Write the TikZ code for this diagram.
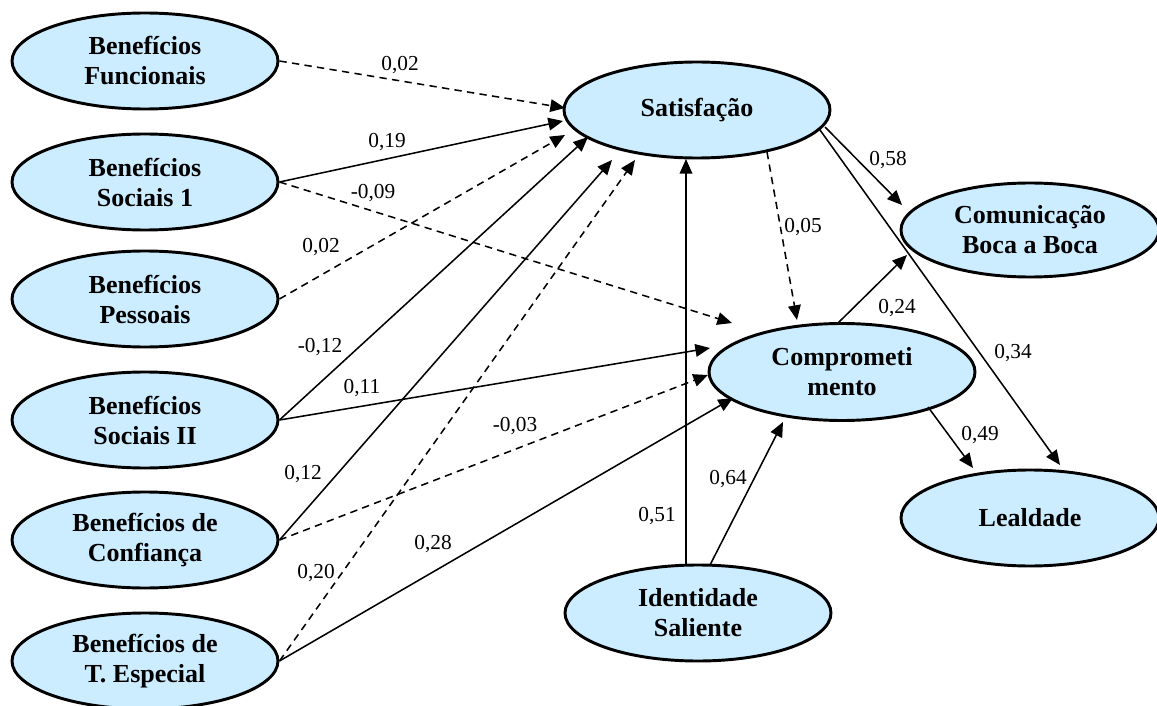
\documentclass[tikz,border=0pt]{standalone}
\usepackage{fontspec}
\setmainfont{Liberation Serif}
\usetikzlibrary{arrows.meta,calc,shapes.geometric}
\definecolor{lblue}{HTML}{CCECFF}
\begin{document}
\begin{tikzpicture}[x=0.75pt,y=-0.75pt,
  var/.style={ellipse,draw=black,line width=2.2pt,fill=lblue,inner sep=0pt,
    minimum width=199.5pt,minimum height=72pt,align=center,
    font=\bfseries\fontsize{19.5}{22.5}\selectfont},
  path/.style={line width=1.15pt,-{Triangle[length=11pt,width=9.5pt]}},
  dpath/.style={path,dash pattern=on 5.5pt off 4pt},
  lab/.style={font=\fontsize{16}{18}\selectfont,inner sep=0pt}]
\useasboundingbox (0,0) rectangle (1157,706);
% nodes
\node[var] (fun) at (145,61) {Benefícios\\Funcionais};
\node[var] (soc1) at (145,182) {Benefícios\\Sociais 1};
\node[var] (pes) at (145,299) {Benefícios\\Pessoais};
\node[var] (soc2) at (145,420) {Benefícios\\Sociais II};
\node[var] (conf) at (145,540) {Benefícios de\\Confiança};
\node[var] (tesp) at (145,661) {Benefícios de\\T. Especial};
\node[var] (sat) at (697,110) {Satisfação};
\node[var,minimum width=193.5pt,minimum height=70.5pt] (com) at (1030,230) {Comunicação\\Boca a Boca};
\node[var,minimum height=72.75pt] (comp) at (842,372) {Comprometi\\mento};
\node[var,minimum width=193.5pt] (leal) at (1030,518) {Lealdade};
\node[var] (ide) at (698,613) {Identidade\\Saliente};
% connectors
\draw[dpath] (fun.east) -- ($(sat)+(-132,-2)$);
\draw[path] (soc1.east) -- ($(sat)+(-134,11)$);
\draw[dpath] (soc1.east) -- ($(comp)+(-110,-49)$);
\draw[dpath] (pes.east) -- ($(sat)+(-132,25)$);
\draw[path] (soc2.east) -- ($(sat)+(-109,27)$);
\draw[path] (soc2.east) -- ($(comp)+(-132,-24)$);
\draw[path] (conf.east) -- ($(sat)+(-85,50)$);
\draw[dpath] (conf.east) -- ($(comp)+(-134,3)$);
\draw[dpath] (tesp.east) -- ($(sat)+(-62,50)$);
\draw[path] (tesp.east) -- ($(comp)+(-109,26)$);
\draw[path] ($(ide)+(-12,-48)$) -- ($(sat)+(-11,49)$);
\draw[path] ($(ide)+(12,-48)$) -- ($(comp)+(-59,50)$);
\draw[dpath] ($(sat)+(70,42)$) -- ($(comp)+(-45,-52)$);
\draw[path] ($(sat)+(128,17)$) -- ($(com)+(-128,-25)$);
\draw[path] ($(sat)+(123,20)$) -- ($(leal)+(30,-53)$);
\draw[path] ($(comp)+(-5,-48)$) -- ($(com)+(-123,25)$);
\draw[path] ($(comp)+(86,35)$) -- ($(leal)+(-57,-50)$);
% labels
\node[lab] (l1) at (400,65) {0,02};
\node[lab] (l2) at (387,142) {0,19};
\node[lab] (l3) at (373,193) {-0,09};
\node[lab] (l4) at (321,247) {0,02};
\node[lab] (l5) at (320,347) {-0,12};
\node[lab] (l6) at (362,388) {0,11};
\node[lab] (l7) at (515,426) {-0,03};
\node[lab] (l8) at (303,474) {0,12};
\node[lab] (l9) at (316,573) {0,20};
\node[lab] (l10) at (433,544) {0,28};
\node[lab] (l11) at (657,516) {0,51};
\node[lab] (l12) at (728,479) {0,64};
\node[lab] (l13) at (803,227) {0,05};
\node[lab] (l14) at (888,160) {0,58};
\node[lab] (l15) at (1013,353) {0,34};
\node[lab] (l16) at (897,308) {0,24};
\node[lab] (l17) at (980,435) {0,49};
\end{tikzpicture}
\end{document}
